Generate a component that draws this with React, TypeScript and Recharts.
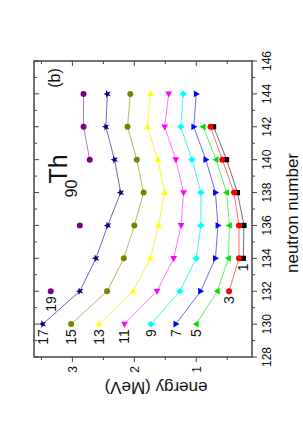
import React from 'react';
import { LineChart, Line, XAxis, YAxis, ReferenceArea } from 'recharts';

// ---- data ----
const neutrons = [130, 132, 134, 136, 138, 140, 142, 144];
const spin1 = [null, null, 0.24, 0.23, 0.335, 0.51, 0.72, null];
const spin3 = [null, 0.47, 0.31, 0.31, 0.39, 0.58, 0.77, null];
const spin5 = [1.0, 0.66, 0.48, 0.465, 0.51, 0.68, 0.89, null];
const spin7 = [1.33, 0.93, 0.69, 0.65, 0.69, 0.845, 1.04, 1.0];
const spin9 = [1.73, 1.265, 1.0, 0.925, 0.925, 1.07, 1.25, 1.21];
const spin11 = [2.16, 1.635, 1.365, 1.245, 1.205, 1.33, 1.51, 1.445];
const spin13 = [2.57, 2.02, 1.74, 1.61, 1.51, 1.62, 1.79, 1.74];
const spin15 = [3.02, 2.44, 2.17, 2.0, 1.85, 1.96, 2.11, 2.065];
const spin17 = [3.48, 2.88, 2.62, 2.43, 2.22, 2.32, 2.46, 2.435];
const spin19 = [null, 3.35, null, 2.88, null, 2.72, 2.82, 2.82];
const spinLabels = ['1', '3', '5', '7', '9', '11', '13', '15', '17', '19'];
const neutronTicks = [128, 129, 130, 131, 132, 133, 134, 135, 136, 137, 138, 139, 140, 141, 142, 143, 144, 145, 146];
const energyTicks = [0.5, 1, 1.5, 2, 2.5, 3, 3.5];

const allSeries = [spin1, spin3, spin5, spin7, spin9, spin11, spin13, spin15, spin17, spin19];

// ---- styles ----
const styles = [
  { color: '#000000', line: '#707070', shape: 'square' },
  { color: '#ff0000', line: '#ff7070', shape: 'circle' },
  { color: '#00e000', line: '#66ee66', shape: 'triUp' },
  { color: '#0000ff', line: '#6a6aff', shape: 'triDown' },
  { color: '#00ffff', line: '#44f0f0', shape: 'diamond' },
  { color: '#ff00ff', line: '#ff77ff', shape: 'triLeft' },
  { color: '#ffff00', line: '#f4f440', shape: 'triRight' },
  { color: '#808000', line: '#b8b860', shape: 'circle' },
  { color: '#000080', line: '#6a6ab8', shape: 'star' },
  { color: '#800080', line: '#c070c0', shape: 'circle' },
];

const FONT = '"Liberation Sans", Arial, sans-serif';
const W = 436;
const H = 303;
const Y_AXIS_W = 40;
const X_AXIS_H = 30;
const M = { top: 34, right: 61, bottom: 21, left: 39 };
const PLOT_W = W - M.left - M.right - Y_AXIS_W;
const PLOT_H = H - M.top - M.bottom - X_AXIS_H;
const FRAME = '#444';

const data = neutrons.map((n, i) => {
  const row: any = { n };
  allSeries.forEach((s, k) => {
    row['s' + spinLabels[k]] = s[i];
  });
  return row;
});

const series = allSeries.map((s, k) => ({
  key: 's' + spinLabels[k],
  label: spinLabels[k],
  first: s.findIndex((v) => v != null),
  ...styles[k],
}));

function Marker({ shape, x, y, color }: any) {
  switch (shape) {
    case 'square':
      return <rect x={x - 2.6} y={y - 2.6} width={5.2} height={5.2} fill={color} />;
    case 'circle':
      return <circle cx={x} cy={y} r={3} fill={color} />;
    case 'triUp':
      return <polygon points={`${x},${y - 3.6} ${x + 3.4},${y + 2.4} ${x - 3.4},${y + 2.4}`} fill={color} />;
    case 'triDown':
      return <polygon points={`${x},${y + 3.6} ${x + 3.4},${y - 2.4} ${x - 3.4},${y - 2.4}`} fill={color} />;
    case 'triLeft':
      return <polygon points={`${x - 3.6},${y} ${x + 2.4},${y - 3.4} ${x + 2.4},${y + 3.4}`} fill={color} />;
    case 'triRight':
      return <polygon points={`${x + 3.6},${y} ${x - 2.4},${y - 3.4} ${x - 2.4},${y + 3.4}`} fill={color} />;
    case 'diamond':
      return <polygon points={`${x},${y - 3.8} ${x + 3.3},${y} ${x},${y + 3.8} ${x - 3.3},${y}`} fill={color} />;
    case 'star': {
      const pts: string[] = [];
      for (let i = 0; i < 10; i++) {
        const r = i % 2 === 0 ? 4 : 1.7;
        const a = -Math.PI / 2 + (i * Math.PI) / 5;
        pts.push(`${x + r * Math.cos(a)},${y + r * Math.sin(a)}`);
      }
      return <polygon points={pts.join(' ')} fill={color} />;
    }
    default:
      return null;
  }
}

const makeDot = (s: any) => (props: any) => {
  const { cx, cy, index, value } = props;
  const key = `${s.key}-${index}`;
  if (cx == null || cy == null || value == null || Number.isNaN(cy)) return <g key={key} />;
  return (
    <g key={key}>
      <Marker shape={s.shape} x={cx} y={cy} color={s.color} />
      {index === s.first && (
        <text x={cx - 5} y={cy + 5} textAnchor="end" fontSize={14} fontFamily={FONT} fill="#111">
          {s.label}
        </text>
      )}
    </g>
  );
};

const XTick = (props: any) => {
  const { x, y, payload } = props;
  const v = payload.value;
  const major = v % 2 === 0;
  const len = major ? 5 : 3;
  return (
    <g>
      <line x1={x} y1={y} x2={x} y2={y + len} stroke={FRAME} strokeWidth={1} />
      <line x1={x} y1={y - PLOT_H} x2={x} y2={y - PLOT_H + len} stroke={FRAME} strokeWidth={1} />
      {major && (
        <text x={x} y={y + 19} textAnchor="middle" fontSize={12} fontFamily={FONT} fill="#111">
          {v}
        </text>
      )}
    </g>
  );
};

const YTick = (props: any) => {
  const { x, y, payload } = props;
  const v = payload.value;
  const major = v % 1 === 0;
  const len = major ? 5 : 3;
  return (
    <g>
      <line x1={x} y1={y} x2={x - len} y2={y} stroke={FRAME} strokeWidth={1} />
      <line x1={x + PLOT_W} y1={y} x2={x + PLOT_W - len} y2={y} stroke={FRAME} strokeWidth={1} />
      {major && (
        <text x={x - 9} y={y + 4.3} textAnchor="end" fontSize={12} fontFamily={FONT} fill="#111">
          {v}
        </text>
      )}
    </g>
  );
};

export default function App() {
  return (
    <div style={{ position: 'absolute', left: 0, top: 0, width: 303, height: 436, overflow: 'hidden', background: '#fff' }}>
      <div
        style={{
          position: 'absolute',
          left: 0,
          top: 436,
          width: W,
          height: H,
          transform: 'rotate(-90deg)',
          transformOrigin: '0 0',
          fontFamily: FONT,
        }}
      >
        <LineChart width={W} height={H} data={data} margin={M}>
          <XAxis
            dataKey="n"
            type="number"
            domain={[128, 146]}
            ticks={neutronTicks}
            interval={0}
            height={X_AXIS_H}
            axisLine={false}
            tickLine={false}
            tickSize={0}
            tickMargin={0}
            tick={<XTick />}
            allowDataOverflow
          />
          <YAxis
            type="number"
            domain={[0.1, 3.62]}
            ticks={energyTicks}
            interval={0}
            width={Y_AXIS_W}
            axisLine={false}
            tickLine={false}
            tickSize={0}
            tickMargin={0}
            tick={<YTick />}
            allowDataOverflow
          />
          <ReferenceArea x1={128} x2={146} y1={0.1} y2={3.62} fill="none" stroke={FRAME} strokeWidth={1.5} />
          {series.map((s) => (
            <Line
              key={s.key}
              dataKey={s.key}
              type="linear"
              stroke={s.line}
              strokeWidth={1}
              dot={makeDot(s)}
              activeDot={false}
              isAnimationActive={false}
              connectNulls={false}
            />
          ))}
        </LineChart>
        <div style={{ position: 'absolute', left: 223, top: 292, transform: 'translate(-50%,-50%)', fontSize: 17, whiteSpace: 'nowrap', lineHeight: 1, color: '#111' }}>
          neutron number
        </div>
        <div style={{ position: 'absolute', left: 48.5, top: 155.6, transform: 'translate(-50%,-50%) rotate(-90deg)', fontSize: 17, whiteSpace: 'nowrap', lineHeight: 1, color: '#111' }}>
          energy (MeV)
        </div>
        <div style={{ position: 'absolute', left: 358, top: 55, transform: 'translate(-50%,-50%)', fontSize: 16, whiteSpace: 'nowrap', lineHeight: 1, color: '#111' }}>
          (b)
        </div>
        <div style={{ position: 'absolute', left: 247.5, top: 71.5, transform: 'translate(-50%,-50%)', fontSize: 16, whiteSpace: 'nowrap', lineHeight: 1, color: '#111' }}>
          90
        </div>
        <div style={{ position: 'absolute', left: 267, top: 57.5, transform: 'translate(-50%,-50%)', fontSize: 25, whiteSpace: 'nowrap', lineHeight: 1, color: '#111' }}>
          Th
        </div>
      </div>
    </div>
  );
}
